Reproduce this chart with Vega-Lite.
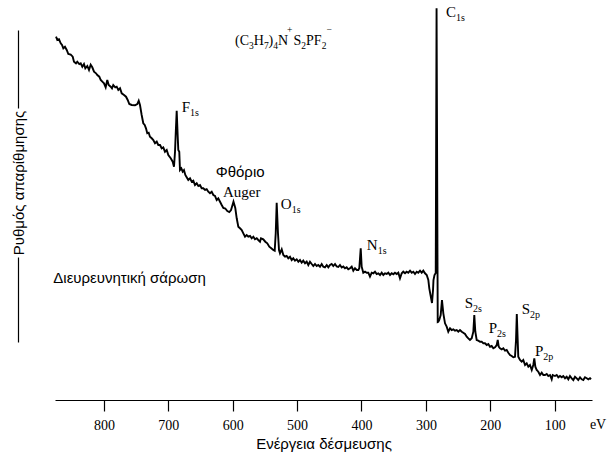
{
  "$schema": "https://vega.github.io/schema/vega-lite/v6.json",
  "width": 537,
  "height": 370,
  "autosize": {"type": "none"},
  "padding": {"left": 55, "top": 30, "right": 17, "bottom": 56},
  "background": "white",
  "config": {"view": {"stroke": null}, "axis": {"grid": false}},
  "datasets": {
    "spectrum": [
{"E":874.4,"v":363.3},{"E":872.4,"v":360},{"E":869.8,"v":360.7},{"E":867.1,"v":356.7},{"E":865.1,"v":355},{"E":863.1,"v":351.7},{"E":860.5,"v":353.3},{"E":857.8,"v":350},{"E":855.3,"v":346},{"E":851.6,"v":345.3},{"E":848.5,"v":343.3},{"E":846.5,"v":338.3},{"E":843.4,"v":336.7},{"E":841.4,"v":338.3},{"E":838.3,"v":336},{"E":836.1,"v":336.7},{"E":833.6,"v":333.3},{"E":831,"v":336},{"E":828.9,"v":331.7},{"E":825.8,"v":334},{"E":823.2,"v":330},{"E":820.6,"v":335.3},{"E":818.1,"v":332.7},{"E":815.4,"v":328.3},{"E":812.3,"v":326.7},{"E":810.3,"v":325},{"E":807.2,"v":323.3},{"E":805,"v":320},{"E":802.5,"v":318.3},{"E":799.9,"v":316.7},{"E":797.3,"v":312.7},{"E":794.8,"v":320},{"E":792.6,"v":315},{"E":789.5,"v":313.3},{"E":787.5,"v":311.7},{"E":785.5,"v":315},{"E":782.4,"v":312.7},{"E":780.2,"v":313.3},{"E":777.7,"v":310},{"E":775,"v":311.7},{"E":772.4,"v":306.7},{"E":768.8,"v":305},{"E":765.7,"v":303.3},{"E":763.1,"v":300},{"E":760.6,"v":296},{"E":756.9,"v":295},{"E":751.8,"v":294.7},{"E":748.2,"v":296},{"E":746,"v":299.3},{"E":744,"v":295},{"E":741.4,"v":285},{"E":738.9,"v":276.7},{"E":736.7,"v":275},{"E":734.7,"v":271.7},{"E":732.7,"v":266.7},{"E":730.5,"v":267.3},{"E":728.5,"v":263.3},{"E":725.8,"v":261.7},{"E":723.3,"v":260},{"E":720.7,"v":256.7},{"E":718,"v":258.3},{"E":715.6,"v":255},{"E":712.9,"v":255},{"E":710.3,"v":251.7},{"E":707.8,"v":252.7},{"E":705.2,"v":248.3},{"E":702.5,"v":250},{"E":700,"v":245},{"E":696.3,"v":241.7},{"E":693.2,"v":238.3},{"E":691.2,"v":233.3},{"E":689.6,"v":248.3},{"E":688.5,"v":266.7},{"E":687,"v":289.3},{"E":685.4,"v":263.3},{"E":684.5,"v":250},{"E":683,"v":248.3},{"E":681.9,"v":230},{"E":679.8,"v":231.7},{"E":677.7,"v":228.3},{"E":675.7,"v":230},{"E":673.6,"v":225},{"E":671.5,"v":222.7},{"E":669,"v":220},{"E":666.3,"v":221.7},{"E":663.7,"v":218.3},{"E":661.2,"v":219.3},{"E":658.6,"v":215},{"E":655.9,"v":216.7},{"E":653.4,"v":214},{"E":650.8,"v":215},{"E":648.2,"v":211.7},{"E":645.7,"v":211.7},{"E":643,"v":210},{"E":640.4,"v":210.7},{"E":637.9,"v":208.3},{"E":635.3,"v":206.7},{"E":632.6,"v":208.3},{"E":630.1,"v":205},{"E":627.5,"v":204},{"E":624.9,"v":200},{"E":622.4,"v":201.7},{"E":619.7,"v":198.3},{"E":617.1,"v":195},{"E":614.6,"v":192},{"E":611.5,"v":191.5},{"E":608.4,"v":189},{"E":605.3,"v":188},{"E":602.6,"v":190},{"E":598.8,"v":198.3},{"E":596,"v":192},{"E":593.8,"v":181.7},{"E":591.3,"v":173.3},{"E":588.7,"v":171.7},{"E":586,"v":170},{"E":583.5,"v":166.7},{"E":580.9,"v":163.3},{"E":578.3,"v":165},{"E":575.8,"v":163.3},{"E":573.1,"v":164},{"E":570.5,"v":161.7},{"E":568,"v":163.3},{"E":565.4,"v":160.7},{"E":562.7,"v":161.7},{"E":560.3,"v":160},{"E":557.6,"v":158.3},{"E":556.1,"v":161.7},{"E":552.5,"v":160.7},{"E":549.4,"v":158.3},{"E":546.3,"v":156.7},{"E":543.2,"v":153.3},{"E":540.1,"v":151.7},{"E":537,"v":150},{"E":534.8,"v":149.3},{"E":533.2,"v":166.7},{"E":531.7,"v":197.3},{"E":529.7,"v":166.7},{"E":528.1,"v":150},{"E":526.6,"v":146.7},{"E":523.9,"v":150.7},{"E":521.4,"v":145},{"E":518.8,"v":143.3},{"E":516.2,"v":144},{"E":513.7,"v":141.7},{"E":511,"v":143.3},{"E":508.4,"v":140},{"E":505.9,"v":141.7},{"E":503.3,"v":139.3},{"E":500.6,"v":140.7},{"E":498.1,"v":138.3},{"E":495.5,"v":140},{"E":492.9,"v":137.3},{"E":490.4,"v":139.3},{"E":487.7,"v":136.7},{"E":485.1,"v":138.3},{"E":482.6,"v":135},{"E":480,"v":138.3},{"E":477.3,"v":136},{"E":474.8,"v":134},{"E":472.2,"v":136},{"E":469.6,"v":134},{"E":467.1,"v":135},{"E":464.4,"v":133.3},{"E":461.8,"v":136},{"E":459.3,"v":133.3},{"E":456.7,"v":132.7},{"E":454,"v":135},{"E":451.5,"v":132.7},{"E":448.9,"v":135},{"E":446.3,"v":136},{"E":443.8,"v":134},{"E":441.1,"v":136},{"E":438.5,"v":133.5},{"E":436,"v":133},{"E":433.4,"v":135},{"E":430.7,"v":132.5},{"E":428.2,"v":133.5},{"E":425.6,"v":131.7},{"E":423,"v":132.7},{"E":420.5,"v":130.7},{"E":417.8,"v":131.7},{"E":415.2,"v":133.3},{"E":412.7,"v":129.3},{"E":410.1,"v":131.7},{"E":407.4,"v":130},{"E":404.9,"v":130},{"E":403.4,"v":131.7},{"E":401.2,"v":151.7},{"E":399.7,"v":133.3},{"E":397.2,"v":127.3},{"E":394.5,"v":128.3},{"E":391.9,"v":127.3},{"E":389.4,"v":127.3},{"E":386.8,"v":123.3},{"E":384.1,"v":127.3},{"E":381.6,"v":126.7},{"E":379,"v":128.3},{"E":376.4,"v":126},{"E":373.9,"v":126.7},{"E":371.2,"v":125},{"E":368.6,"v":127.3},{"E":366.1,"v":125},{"E":363.5,"v":126.7},{"E":360.8,"v":126},{"E":358.3,"v":127.3},{"E":355.7,"v":125},{"E":353.1,"v":126.7},{"E":350.6,"v":125.7},{"E":348,"v":127.3},{"E":345.3,"v":126},{"E":342.8,"v":127.3},{"E":340.2,"v":121.7},{"E":337.5,"v":126.7},{"E":335.1,"v":128.3},{"E":332.4,"v":126.7},{"E":329.8,"v":128.3},{"E":327.3,"v":127.3},{"E":324.6,"v":129.3},{"E":322,"v":127.3},{"E":319.5,"v":128.3},{"E":316.9,"v":126},{"E":314.2,"v":128.3},{"E":311.8,"v":127.3},{"E":309.1,"v":129.3},{"E":306.5,"v":127.3},{"E":304,"v":129.3},{"E":301.4,"v":126.7},{"E":298.7,"v":125},{"E":296.2,"v":120},{"E":294.7,"v":111.7},{"E":292.8,"v":105},{"E":290.5,"v":97},{"E":288.9,"v":110},{"E":288.2,"v":120},{"E":286.6,"v":125},{"E":284.7,"v":127},{"E":283.4,"v":391.7},{"E":281.6,"v":78},{"E":280.7,"v":78.3},{"E":279.2,"v":80},{"E":277,"v":85},{"E":275,"v":100},{"E":272.9,"v":86.7},{"E":270.3,"v":76.7},{"E":267.7,"v":73.3},{"E":265.2,"v":68.3},{"E":262.5,"v":71.7},{"E":259.9,"v":70},{"E":257.4,"v":70.7},{"E":254.8,"v":69.3},{"E":252.1,"v":70},{"E":249.6,"v":68.3},{"E":247,"v":70},{"E":244.3,"v":68.3},{"E":241.9,"v":67.3},{"E":239.2,"v":66},{"E":236.6,"v":63.3},{"E":234.1,"v":61.7},{"E":231.5,"v":60},{"E":228.8,"v":61.7},{"E":226.3,"v":68.3},{"E":224.8,"v":85},{"E":223.2,"v":68.3},{"E":221.1,"v":60},{"E":218.6,"v":59.3},{"E":215.9,"v":58.3},{"E":213.3,"v":58.3},{"E":210.8,"v":56.7},{"E":208.2,"v":56.7},{"E":205.5,"v":55},{"E":203,"v":56},{"E":200.4,"v":53.3},{"E":197.8,"v":54},{"E":195.3,"v":51.7},{"E":192.6,"v":52.7},{"E":190,"v":55},{"E":188.4,"v":60},{"E":186.9,"v":53.3},{"E":184.9,"v":51.7},{"E":182.2,"v":50.7},{"E":179.7,"v":51.7},{"E":177.1,"v":49.3},{"E":174.5,"v":50},{"E":172,"v":47.3},{"E":169.3,"v":45},{"E":166.7,"v":44},{"E":164.2,"v":42.7},{"E":161.6,"v":43.3},{"E":160,"v":60},{"E":158.8,"v":86},{"E":157.4,"v":60},{"E":156.5,"v":43.3},{"E":153.8,"v":40},{"E":151.2,"v":38.3},{"E":148.7,"v":40},{"E":146,"v":35},{"E":143.4,"v":36.7},{"E":140.9,"v":33.3},{"E":138.3,"v":35},{"E":135.6,"v":30},{"E":133.2,"v":35},{"E":131.6,"v":41.7},{"E":130,"v":33.3},{"E":127.9,"v":30},{"E":125.4,"v":28.3},{"E":122.7,"v":25},{"E":120.1,"v":27.3},{"E":117.6,"v":25},{"E":115,"v":25},{"E":112.3,"v":26},{"E":109.9,"v":24},{"E":107.2,"v":25},{"E":104.6,"v":20.7},{"E":103,"v":25},{"E":99.5,"v":24},{"E":96.8,"v":25},{"E":94.3,"v":22.7},{"E":91.7,"v":24},{"E":89,"v":22.7},{"E":86.6,"v":24},{"E":83.9,"v":21.7},{"E":81.3,"v":23.3},{"E":78.8,"v":20.7},{"E":76.2,"v":24},{"E":73.5,"v":21.7},{"E":71,"v":20},{"E":68.4,"v":23.3},{"E":65.7,"v":21.7},{"E":63.3,"v":20},{"E":60.6,"v":22.7},{"E":58,"v":20.7},{"E":55.5,"v":20},{"E":52.9,"v":22.7},{"E":50.2,"v":21.7},{"E":47.7,"v":20.7},{"E":45.1,"v":21.7},{"E":43.5,"v":20.7}
    ],
    "peaks": [
      {"el":"F","sub":"1s","E":666.3,"v":288.3},
      {"el":"O","sub":"1s","E":508.4,"v":191.5},
      {"el":"N","sub":"1s","E":374.8,"v":150},
      {"el":"C","sub":"1s","E":253.2,"v":383.3},
      {"el":"S","sub":"2s","E":226.8,"v":91.7},
      {"el":"P","sub":"2s","E":189.5,"v":66.7},
      {"el":"S","sub":"2p","E":138.3,"v":86},
      {"el":"P","sub":"2p","E":117.6,"v":44}
    ],
    "formula": [
      {"t":"(C","kind":"main","E":596.4,"v":355},
      {"t":"3","kind":"sub","E":574.7,"v":355},
      {"t":"H","kind":"main","E":567.3,"v":355},
      {"t":"7","kind":"sub","E":551.6,"v":355},
      {"t":")","kind":"main","E":544.3,"v":355},
      {"t":"4","kind":"sub","E":537,"v":355},
      {"t":"N","kind":"main","E":529.7,"v":355},
      {"t":"+","kind":"sup","E":515.7,"v":355},
      {"t":"S","kind":"main","E":505.6,"v":355},
      {"t":"2","kind":"sub","E":493.5,"v":355},
      {"t":"PF","kind":"main","E":486.2,"v":355},
      {"t":"2","kind":"sub","E":461.9,"v":355},
      {"t":"−","kind":"sup","E":454.5,"v":355}
    ],
    "sansNotes": [
      {"t":"Φθόριο","E":626.4,"v":223},
      {"t":"Διευρευνητική σάρωση","E":878.6,"v":117}
    ],
    "serifNotes": [
      {"t":"Auger","E":615.1,"v":203.5}
    ],
    "unitNote": [
      {"t":"eV","E":32.6,"v":-29}
    ]
  },
  "layer": [
    {
      "data": {"name": "spectrum"},
      "mark": {"type": "line", "color": "black", "strokeWidth": 1.9},
      "encoding": {
        "x": {
          "field": "E", "type": "quantitative",
          "scale": {"domain": [42, 876], "reverse": true, "nice": false, "zero": false},
          "axis": {
            "values": [100, 200, 300, 400, 500, 600, 700, 800],
            "title": "Ενέργεια δέσμευσης",
            "domainColor": "black", "domainWidth": 1.2,
            "tickColor": "black", "tickWidth": 1.2, "tickSize": 11,
            "labelFont": "Liberation Serif", "labelFontSize": 14, "labelColor": "black", "labelPadding": 7,
            "titleFont": "Liberation Sans", "titleFontSize": 15, "titleFontWeight": "normal", "titleColor": "black",
            "titleBaseline": "alphabetic", "titleY": 48
          }
        },
        "y": {
          "field": "v", "type": "quantitative",
          "scale": {"domain": [0, 370], "nice": false, "zero": false},
          "axis": {
            "offset": 37,
            "ticks": false, "labels": false,
            "domainColor": "black", "domainWidth": 1.2,
            "domainDash": [0, 58, 85, 149, 78, 100],
            "title": "Ρυθμός απαρίθμησης",
            "titleFont": "Liberation Sans", "titleFontSize": 15, "titleFontWeight": "normal", "titleColor": "black",
            "titleAngle": 270, "titleX": 0, "titleY": 152.5, "titleAlign": "center", "titleBaseline": "middle"
          }
        }
      }
    },
    {
      "mark": {"type": "point", "shape": "triangle-up", "filled": true, "color": "black", "size": 18, "opacity": 1},
      "encoding": {
        "x": {"datum": 933, "type": "quantitative"},
        "y": {"datum": 367, "type": "quantitative"}
      }
    },
    {
      "data": {"name": "peaks"},
      "mark": {"type": "text", "font": "Liberation Serif", "fontSize": 15, "align": "right", "baseline": "alphabetic", "color": "black"},
      "encoding": {"x": {"field": "E", "type": "quantitative"}, "y": {"field": "v", "type": "quantitative"}, "text": {"field": "el"}}
    },
    {
      "data": {"name": "peaks"},
      "mark": {"type": "text", "font": "Liberation Serif", "fontSize": 10, "align": "left", "baseline": "alphabetic", "dy": 4, "color": "black"},
      "encoding": {"x": {"field": "E", "type": "quantitative"}, "y": {"field": "v", "type": "quantitative"}, "text": {"field": "sub"}}
    },
    {
      "data": {"name": "formula"},
      "transform": [{"filter": "datum.kind === 'main'"}],
      "mark": {"type": "text", "font": "Liberation Serif", "fontSize": 14, "align": "left", "baseline": "alphabetic", "color": "black"},
      "encoding": {"x": {"field": "E", "type": "quantitative"}, "y": {"field": "v", "type": "quantitative"}, "text": {"field": "t"}}
    },
    {
      "data": {"name": "formula"},
      "transform": [{"filter": "datum.kind === 'sub'"}],
      "mark": {"type": "text", "font": "Liberation Serif", "fontSize": 9.5, "align": "left", "baseline": "alphabetic", "dy": 3.5, "color": "black"},
      "encoding": {"x": {"field": "E", "type": "quantitative"}, "y": {"field": "v", "type": "quantitative"}, "text": {"field": "t"}}
    },
    {
      "data": {"name": "formula"},
      "transform": [{"filter": "datum.kind === 'sup'"}],
      "mark": {"type": "text", "font": "Liberation Serif", "fontSize": 9.5, "align": "left", "baseline": "alphabetic", "dy": -12, "color": "black"},
      "encoding": {"x": {"field": "E", "type": "quantitative"}, "y": {"field": "v", "type": "quantitative"}, "text": {"field": "t"}}
    },
    {
      "data": {"name": "sansNotes"},
      "mark": {"type": "text", "font": "Liberation Sans", "fontSize": 15, "align": "left", "baseline": "alphabetic", "color": "black"},
      "encoding": {"x": {"field": "E", "type": "quantitative"}, "y": {"field": "v", "type": "quantitative"}, "text": {"field": "t"}}
    },
    {
      "data": {"name": "serifNotes"},
      "mark": {"type": "text", "font": "Liberation Serif", "fontSize": 15, "align": "left", "baseline": "alphabetic", "color": "black"},
      "encoding": {"x": {"field": "E", "type": "quantitative"}, "y": {"field": "v", "type": "quantitative"}, "text": {"field": "t"}}
    },
    {
      "data": {"name": "unitNote"},
      "mark": {"type": "text", "font": "Liberation Serif", "fontSize": 14, "align": "center", "baseline": "alphabetic", "color": "black"},
      "encoding": {"x": {"field": "E", "type": "quantitative"}, "y": {"field": "v", "type": "quantitative"}, "text": {"field": "t"}}
    }
  ]
}
